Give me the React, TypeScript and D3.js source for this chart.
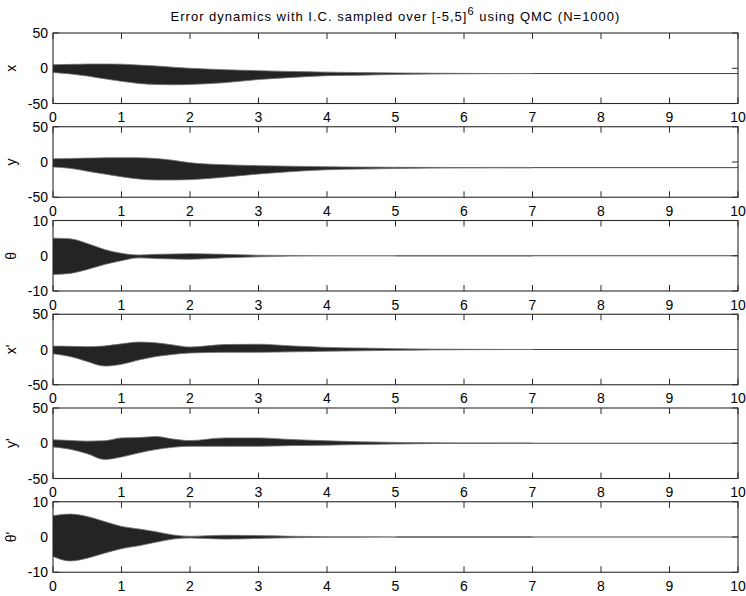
import * as d3 from 'd3'

const W = 746
const H = 596
const LEFT = 53
const RIGHT = 738
const TOP0 = 33
const STEP = 93.75
const PH = 70.5
const FONT = '"Liberation Sans", Arial, Helvetica, sans-serif'

// time grid the envelopes were read on
const T = [0, 0.25, 0.5, 0.75, 1, 1.25, 1.5, 1.75, 2, 2.5, 3, 3.5, 4, 4.5, 5, 5.5, 6, 6.5, 7]

// upper / lower envelopes of the 1000 trajectories, per state
const xUpper = [5, 5.5, 6, 6, 5.8, 4.5, 3.3, 1.5, 0, -2, -3.4, -4.6, -5.5, -6.2, -6.6, -7, -7.3, -7.5, -7.5]
const xLower = [-6, -8, -11, -15, -18.6, -21.5, -23, -23.5, -23, -20.5, -16, -13, -10.5, -9.8, -8.8, -8.2, -7.8, -7.6, -7.5]
const yUpper = [4.5, 5, 5.5, 6, 6.2, 6, 5, 2.5, -1, -3.8, -5.2, -6, -6.7, -7.2, -7.5, -7.7, -7.9, -8, -8]
const yLower = [-7, -9, -13, -17, -21, -24, -25.5, -25.5, -25, -21.5, -17, -13.5, -11, -10, -9.2, -8.6, -8.2, -8, -8]
const thUpper = [5, 4.8, 3.5, 1.8, 0.7, 0.2, 0.4, 0.5, 0.6, 0.4, 0.15, 0.05, 0.02, 0, 0, 0, 0, 0, 0]
const thLower = [-5.3, -5, -3.9, -2.5, -1.4, -0.6, -0.8, -0.9, -1, -0.6, -0.3, -0.1, -0.03, 0, 0, 0, 0, 0, 0]
const dxUpper = [4.8, 4.5, 4, 5, 8, 10.5, 9.5, 6.5, 3.5, 7, 7.5, 5, 3, 2, 1.2, 0.6, 0.3, 0.1, 0]
const dxLower = [-6, -10, -17, -23.5, -21, -15, -10, -7, -5, -4, -4, -3.3, -2.5, -1.8, -1.2, -0.6, -0.3, -0.1, 0]
const dyUpper = [4.8, 4, 3, 3.5, 7.6, 8, 9.5, 6, 3.8, 7.6, 7.6, 5.2, 3.5, 2, 1.2, 0.6, 0.2, 0, 0]
const dyLower = [-5.2, -8.5, -14.8, -23, -19.5, -13.8, -9, -5.7, -4.3, -4.3, -4.3, -3.3, -2.7, -1.8, -1.1, -0.5, -0.2, 0, 0]
const dthUpper = [6, 6.5, 5.8, 4.4, 3, 2.3, 1.5, 0.6, 0.2, 0.5, 0.4, 0.2, 0.1, 0.05, 0, 0, 0, 0, 0]
const dthLower = [-5.5, -6.8, -6, -4.6, -3.3, -2.5, -1.5, -0.6, -0.25, -0.6, -0.4, -0.2, -0.1, -0.05, 0, 0, 0, 0, 0]

const LABELS = ['x', 'y', 'θ', "x'", "y'", "θ'"]
const LIMITS = [50, 50, 10, 50, 50, 10]
const FINALS = [-7.5, -8, 0, 0, 0, 0]
const UPPERS = [xUpper, yUpper, thUpper, dxUpper, dyUpper, dthUpper]
const LOWERS = [xLower, yLower, thLower, dxLower, dyLower, dthLower]
const X_TICKS = d3.range(0, 11)

const xScale = d3.scaleLinear().domain([0, 10]).range([LEFT, RIGHT])

const Panel = ({ k }: { k: number }) => {
  const top = TOP0 + k * STEP
  const bottom = top + PH
  const lim = LIMITS[k]
  const y = d3.scaleLinear().domain([-lim, lim]).range([bottom, top])
  const up = UPPERS[k]
  const lo = LOWERS[k]
  const area = d3
    .area<number>()
    .x((d, i) => xScale(T[i]))
    .y0((d, i) => y(lo[i]))
    .y1((d) => y(d))
    .curve(d3.curveMonotoneX)
  const edge = (vals: number[]) =>
    d3
      .line<number>()
      .x((d, i) => xScale(T[i]))
      .y((d) => y(d))
      .curve(d3.curveMonotoneX)(vals) || ''
  const yTicks = [-lim, 0, lim]
  const tl = 6
  const axisColor = '#2a2a2a'
  return (
    <g>
      <line
        x1={xScale(5)}
        x2={xScale(10)}
        y1={y(FINALS[k])}
        y2={y(FINALS[k])}
        stroke="#444"
        strokeWidth={1}
      />
      <path d={area(up) || ''} fill="#242424" />
      <path d={edge(up)} fill="none" stroke="#707070" strokeWidth={0.8} />
      <path d={edge(lo)} fill="none" stroke="#707070" strokeWidth={0.8} />
      <rect
        x={LEFT}
        y={top}
        width={RIGHT - LEFT}
        height={PH}
        fill="none"
        stroke={axisColor}
        strokeWidth={1.1}
      />
      {X_TICKS.map((t) => (
        <g key={t}>
          <line x1={xScale(t)} x2={xScale(t)} y1={bottom} y2={bottom - tl} stroke={axisColor} />
          <line x1={xScale(t)} x2={xScale(t)} y1={top} y2={top + tl} stroke={axisColor} />
          <text
            x={xScale(t)}
            y={bottom + 18.5}
            textAnchor="middle"
            fontSize={14}
            fontFamily={FONT}
          >
            {t}
          </text>
        </g>
      ))}
      {yTicks.map((v) => (
        <g key={v}>
          <line x1={LEFT} x2={LEFT + tl} y1={y(v)} y2={y(v)} stroke={axisColor} />
          <line x1={RIGHT} x2={RIGHT - tl} y1={y(v)} y2={y(v)} stroke={axisColor} />
          <text
            x={48}
            y={y(v)}
            dy="0.36em"
            textAnchor="end"
            fontSize={14}
            fontFamily={FONT}
          >
            {v}
          </text>
        </g>
      ))}
      <text
        transform={`translate(16,${(top + bottom) / 2}) rotate(-90)`}
        textAnchor="middle"
        fontSize={14}
        fontFamily={FONT}
      >
        {LABELS[k]}
      </text>
    </g>
  )
}

export default function App() {
  return (
    <svg
      width={W}
      height={H}
      style={{ position: 'absolute', left: 0, top: 0, background: 'white' }}
    >
      <rect width={W} height={H} fill="white" />
      <text
        x={(LEFT + RIGHT) / 2}
        y={21}
        textAnchor="middle"
        fontSize={13}
        fontFamily={FONT}
        letterSpacing={1}
      >
        Error dynamics with I.C. sampled over [-5,5]
        <tspan dy={-6} fontSize={11}>
          6
        </tspan>
        <tspan dy={6}> using QMC (N=1000)</tspan>
      </text>
      {LABELS.map((_, k) => (
        <Panel key={k} k={k} />
      ))}
    </svg>
  )
}
